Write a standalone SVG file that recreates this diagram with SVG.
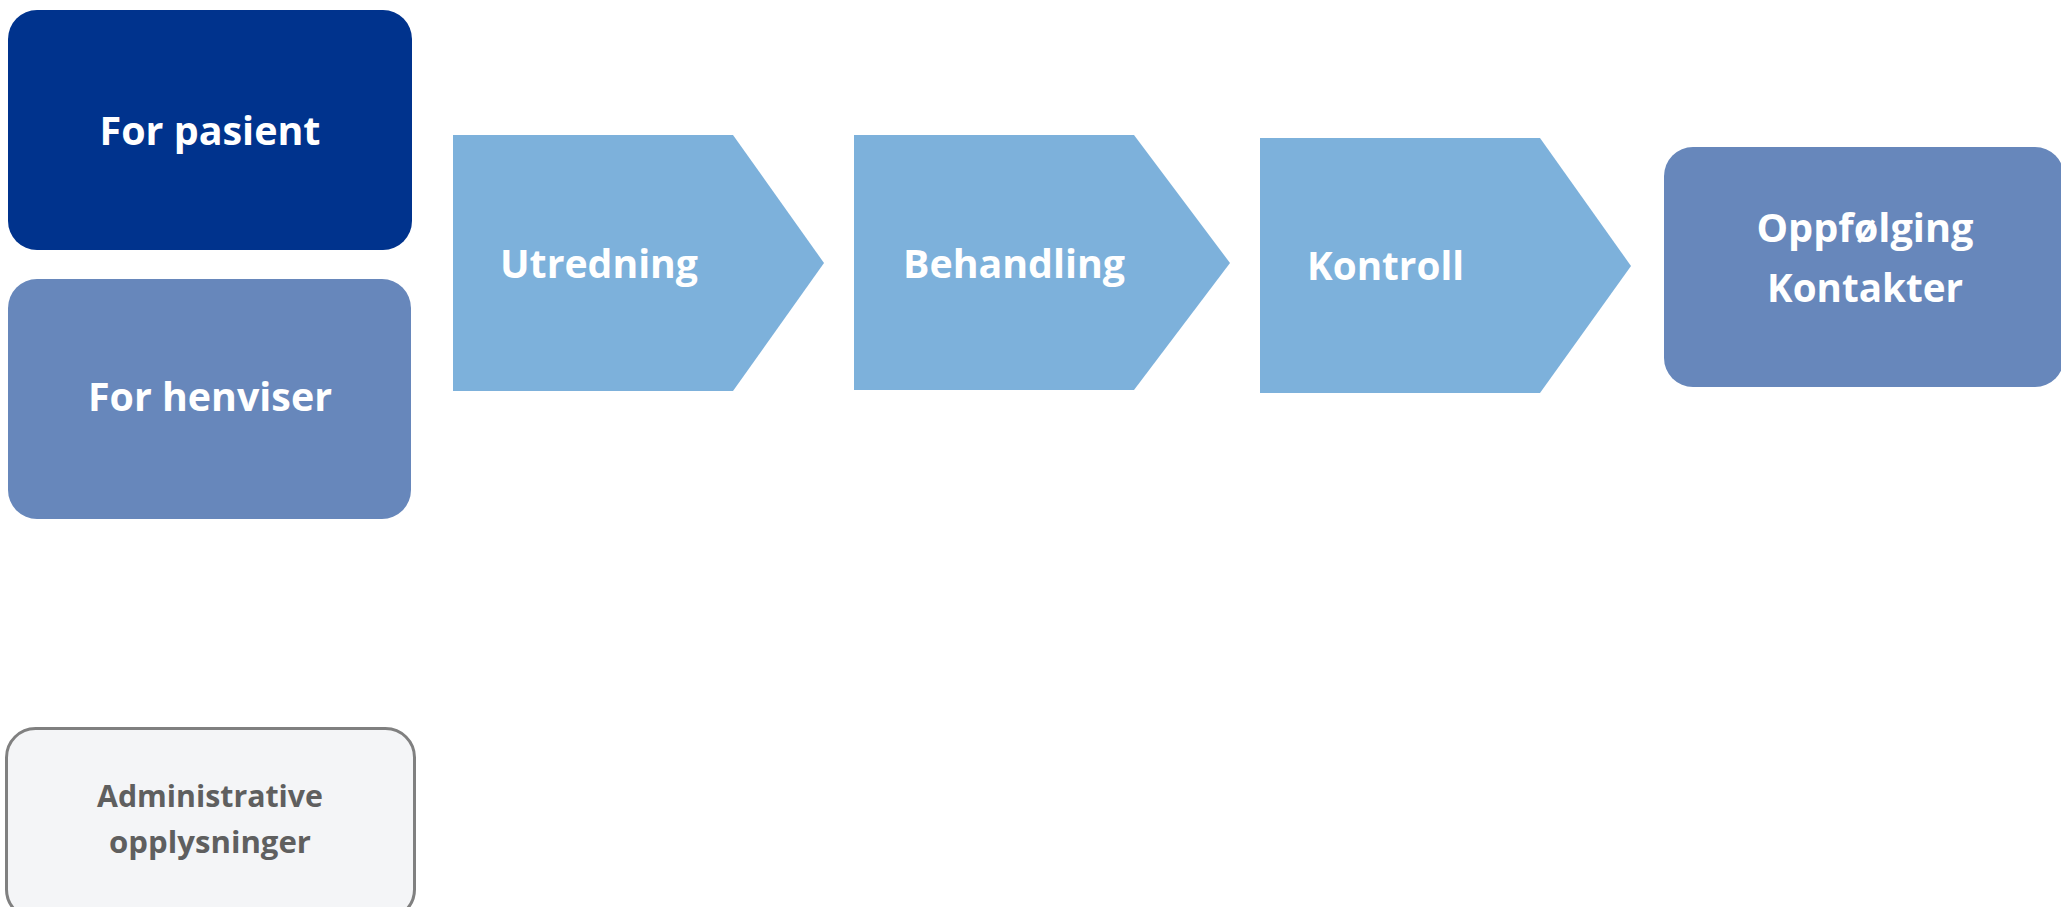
<svg xmlns="http://www.w3.org/2000/svg" width="2061" height="907" viewBox="0 0 2061 907">
<style>
.lbl{font-family:"Open Sans","Noto Sans","DejaVu Sans",sans-serif;font-weight:700;fill:#ffffff}
.big{font-size:40px}
.adm{font-family:"Open Sans","Noto Sans","DejaVu Sans",sans-serif;font-weight:700;font-size:31px;fill:#5f5f5f}
.chev{fill:#7db1db}
</style>
<rect width="2061" height="907" fill="#ffffff"/>
<g id="node-for-pasient">
<rect x="8" y="10" width="404" height="240" rx="29" fill="#00338d"/>
<text class="lbl big" x="210" y="145" text-anchor="middle" textLength="221" lengthAdjust="spacingAndGlyphs">For pasient</text>
</g>
<g id="node-for-henviser">
<rect x="8" y="279" width="403" height="240" rx="29" fill="#6787bb"/>
<text class="lbl big" x="210" y="411" text-anchor="middle" textLength="244" lengthAdjust="spacingAndGlyphs">For henviser</text>
</g>
<g id="node-utredning">
<polygon class="chev" points="453,135 733,135 824,263 733,391 453,391"/>
<text class="lbl big" x="500" y="278" textLength="198" lengthAdjust="spacingAndGlyphs">Utredning</text>
</g>
<g id="node-behandling">
<polygon class="chev" points="854,135 1134,135 1230,263 1134,390 854,390"/>
<text class="lbl big" x="903" y="278" textLength="222" lengthAdjust="spacingAndGlyphs">Behandling</text>
</g>
<g id="node-kontroll">
<polygon class="chev" points="1260,138 1540,138 1631,266 1540,393 1260,393"/>
<text class="lbl big" x="1307" y="280" textLength="157" lengthAdjust="spacingAndGlyphs">Kontroll</text>
</g>
<g id="node-oppfolging">
<rect x="1664" y="147" width="400" height="240" rx="29" fill="#6787bb"/>
<text class="lbl big" x="1865" y="242" text-anchor="middle" textLength="217" lengthAdjust="spacingAndGlyphs">Oppfølging</text>
<text class="lbl big" x="1865" y="302" text-anchor="middle" textLength="196" lengthAdjust="spacingAndGlyphs">Kontakter</text>
</g>
<g id="node-admin">
<rect x="6.5" y="728.5" width="408" height="190" rx="29" fill="#f4f5f7" stroke="#808080" stroke-width="3"/>
<text class="adm" x="210" y="807" text-anchor="middle" textLength="226" lengthAdjust="spacingAndGlyphs">Administrative</text>
<text class="adm" x="210" y="853" text-anchor="middle" textLength="202" lengthAdjust="spacingAndGlyphs">opplysninger</text>
</g>
<g id="connectors"></g>
</svg>
